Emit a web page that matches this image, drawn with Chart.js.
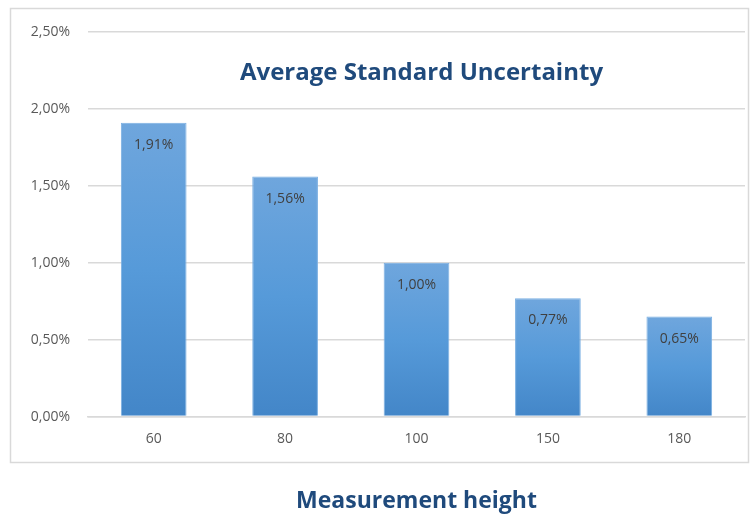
<!DOCTYPE html>
<html>
<head>
<meta charset="utf-8">
<script src="https://cdn.jsdelivr.net/npm/chart.js@4"></script>
<style>
  html, body { margin: 0; padding: 0; background: #fff; }
  #wrap { width: 756px; height: 515px; position: relative; }
</style>
</head>
<body>
<div id="wrap"><canvas id="chart"></canvas></div>
<script>
// ---- Data ----
const heights = ["60", "80", "100", "150", "180"];
const uncertainty = [1.91, 1.56, 1.00, 0.77, 0.65]; // percent
const chartTitle = "Average Standard Uncertainty";
const xTitle = "Measurement height";

const fmt = v => v.toFixed(2).replace('.', ',') + '%';

// frame, inner title and value labels
const decor = {
  id: 'decor',
  beforeDraw(chart) {
    const c = chart.ctx;
    c.save();
    c.strokeStyle = '#d9d9d9';
    c.lineWidth = 1.5;
    c.strokeRect(10.5, 8.5, 738, 454);
    c.restore();
  },
  afterDatasetsDraw(chart) {
    const c = chart.ctx;
    const a = chart.chartArea;
    c.save();
    c.fillStyle = '#1f4a7c';
    c.font = 'bold 24px "Open Sans"';
    c.textAlign = 'center';
    c.textBaseline = 'middle';
    c.fillText(chartTitle, (a.left + a.right) / 2 + 5, 73);

    c.fillStyle = '#404040';
    c.font = '14px "Open Sans"';
    chart.getDatasetMeta(0).data.forEach((bar, i) => {
      c.fillText(fmt(uncertainty[i]), bar.x, bar.y + 22);
    });
    c.restore();
  }
};

new Chart(document.getElementById('chart'), {
  type: 'bar',
  data: {
    labels: heights,
    datasets: [{
      data: uncertainty,
      backgroundColor(ctx) {
        const chart = ctx.chart;
        if (!chart.chartArea || ctx.parsed == null) return '#5b9bd5';
        const y = chart.scales.y;
        const top = y.getPixelForValue(ctx.parsed.y);
        const bottom = y.getPixelForValue(0);
        const g = chart.ctx.createLinearGradient(0, top, 0, bottom);
        g.addColorStop(0, '#6fa6dd');
        g.addColorStop(0.5, '#569ad9');
        g.addColorStop(1, '#4386c8');
        return g;
      },
      borderColor: '#7aafe2',
      borderWidth: 1,
      barPercentage: 0.5,
      categoryPercentage: 1
    }]
  },
  options: {
    responsive: true,
    maintainAspectRatio: false,
    animation: false,
    layout: { padding: { left: 10, right: 11, top: 32, bottom: 0 } },
    plugins: {
      legend: { display: false },
      tooltip: { enabled: false }
    },
    scales: {
      y: {
        min: 0,
        max: 2.5,
        ticks: {
          stepSize: 0.5,
          padding: 18,
          color: '#595959',
          font: { family: 'Open Sans', size: 14 },
          callback: v => fmt(v)
        },
        grid: { color: '#d9d9d9', lineWidth: 1.5, drawTicks: false },
        border: { display: false },
        afterFit(scale) { scale.width = 78; }
      },
      x: {
        ticks: {
          padding: 14,
          color: '#595959',
          font: { family: 'Open Sans', size: 14 }
        },
        grid: { display: false, drawTicks: false },
        border: { color: '#d9d9d9', width: 1.5 },
        title: {
          display: true,
          text: xTitle,
          color: '#1f4a7c',
          font: { family: 'Open Sans', size: 23, weight: 'bold' },
          padding: { top: 26, bottom: 0 }
        }
      }
    }
  },
  plugins: [decor]
});
</script>
</body>
</html>
